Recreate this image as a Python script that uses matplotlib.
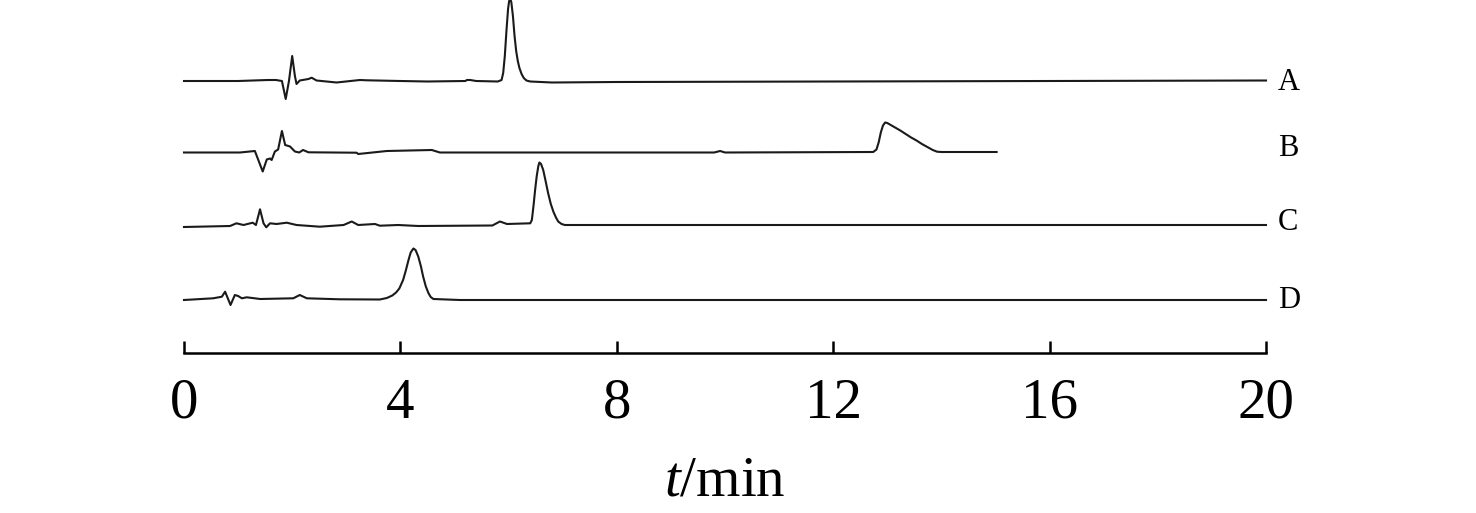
import numpy as np
from matplotlib import pyplot as plt

plt.rcParams['font.family'] = 'Liberation Serif'
plt.rcParams['mathtext.fontset'] = 'custom'
plt.rcParams['mathtext.rm'] = 'Liberation Serif'
plt.rcParams['mathtext.it'] = 'Liberation Serif:italic'

# хроматограммы (время, мин; сигнал, усл. ед.)
t_a = [0, 1.0, 1.55, 1.70, 1.81, 1.88, 1.94, 2.00, 2.05, 2.08, 2.14, 2.30, 2.36, 2.45,
       2.82, 3.25, 3.38, 4.0, 4.5, 5.2, 5.23, 5.29, 5.40, 5.80, 5.87, 5.90, 5.93, 5.96,
       5.99, 6.01, 6.03, 6.05, 6.08, 6.11, 6.14, 6.17, 6.20, 6.24, 6.28, 6.33, 6.40,
       6.8, 8.0, 12.0, 16.0, 20.0]
s_a = [0, 0, 1, 1, 0, -18, 0, 25, 5, -3, 0.5, 2, 3.3, 0.5,
       -1.5, 1, 0.7, 0, -0.5, 0, 1, 1, 0, -0.5, 1, 8, 25, 50,
       72, 80, 82, 79, 65, 45, 30, 20, 13, 7, 3, 0.5, -0.5,
       -1.5, -1, -0.5, 0, 0.5]

t_b = [0, 1.035, 1.31, 1.455, 1.53, 1.59, 1.62, 1.68, 1.74, 1.81, 1.87, 1.96, 2.05,
       2.13, 2.20, 2.30, 3.19, 3.22, 3.75, 4.58, 4.73, 9.8, 9.91, 10.0, 12.74, 12.80,
       12.84, 12.88, 12.92, 12.96, 13.00, 13.08, 13.16, 13.24, 13.34, 13.44, 13.54,
       13.64, 13.74, 13.84, 13.92, 14.0, 15.02]
s_b = [0, 0, 1.5, -19, -7, -6, -7.5, 1, 3, 21.5, 7.5, 6, 1,
       0, 2.5, 0.2, -0.2, -1.5, 1.5, 2.5, 0, 0, 1.5, 0, 0.5, 3,
       10, 20, 27, 30, 29.5, 27, 24.5, 22, 18.5, 15, 12,
       8.5, 5.5, 2.5, 0.8, 0.5, 0.5]

t_c = [0, 0.85, 0.97, 1.10, 1.27, 1.33, 1.405, 1.47, 1.52, 1.59, 1.71, 1.90, 2.08,
       2.51, 2.95, 3.10, 3.22, 3.53, 3.62, 3.96, 4.33, 5.70, 5.84, 5.97, 6.40, 6.43,
       6.46, 6.49, 6.52, 6.55, 6.57, 6.60, 6.64, 6.68, 6.73, 6.78, 6.83, 6.88, 6.92,
       6.98, 7.04, 7.5, 20.0]
s_c = [-1, 0, 2.7, 1, 3.3, 1, 16.7, 2.7, -1.3, 2.7, 2, 3.3, 1,
       -0.7, 1, 4.5, 1, 2, 0.3, 1, 0, 0.5, 4.5, 2, 2.7, 6,
       20, 36, 50, 60, 63.5, 62, 56, 46, 33, 22, 14, 8, 4.3,
       2, 1, 1, 1]

t_d = [0, 0.54, 0.70, 0.76, 0.86, 0.94, 1.00, 1.07, 1.16, 1.41, 2.02, 2.14, 2.27,
       2.88, 3.62, 3.75, 3.85, 3.92, 3.98, 4.05, 4.10, 4.15, 4.19, 4.24, 4.28, 4.33,
       4.38, 4.42, 4.47, 4.52, 4.56, 4.61, 5.1, 20.0]
s_d = [-0.5, 1.2, 2.8, 7.8, -5.5, 4.5, 3.5, 1.2, 2.2, 0.5, 1.2, 4.5, 1.2,
       0.2, 0, 1.5, 4, 7, 11, 19.5, 29, 39.5, 47, 51, 49.5, 43,
       33, 23, 13, 6.2, 2.5, 0.5, -0.5, -0.5]

labels = ['A', 'B', 'C', 'D']
offsets = [272, 200.5, 127, 53.5]
label_y = [271, 205, 131, 53]
xticks = [0, 4, 8, 12, 16, 20]

fig = plt.figure(figsize=(14.76, 5.13), dpi=100)
ax = fig.add_axes([184 / 1476, 1 - 353 / 513, (1266 - 184) / 1476, 353 / 513])

for t, s, off in zip([t_a, t_b, t_c, t_d], [s_a, s_b, s_c, s_d], offsets):
    ax.plot(t, np.array(s) + off, color='#1a1a1a', lw=1.5, clip_on=False,
            solid_joinstyle='round')

for lab, y in zip(labels, label_y):
    ax.text(20.22, y, lab, fontsize=22, va='center', ha='left')

ax.set_xlim(0, 20)
ax.set_ylim(0, 353)
ax.set_xticks(xticks)
ax.set_yticks([])
for side in ['top', 'left', 'right']:
    ax.spines[side].set_visible(False)
ax.spines['bottom'].set_linewidth(1.8)
ax.tick_params(axis='x', direction='in', length=9, width=1.8, labelsize=41, pad=18)
ax.set_xlabel('$t$/min', fontsize=41, labelpad=18)
ax.patch.set_alpha(0)

plt.savefig('out.png', dpi=100, facecolor='white')
